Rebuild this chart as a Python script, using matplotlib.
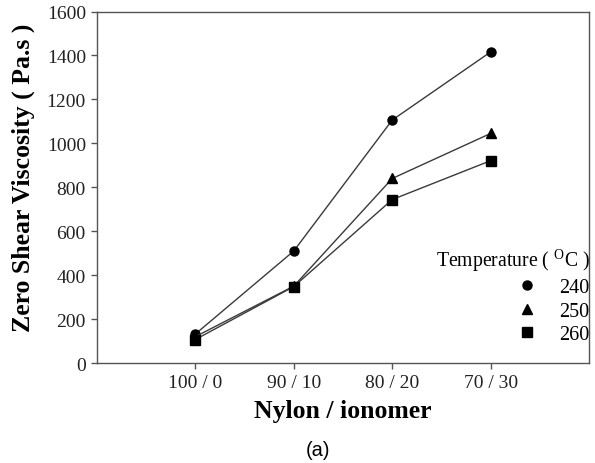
import matplotlib
matplotlib.use("Agg")
import matplotlib.pyplot as plt
from matplotlib.lines import Line2D

plt.rcParams['font.family'] = ['Liberation Serif', 'DejaVu Serif']
plt.rcParams['mathtext.fontset'] = 'custom'
plt.rcParams['mathtext.rm'] = 'Liberation Serif'

categories = ["100 / 0", "90 / 10", "80 / 20", "70 / 30"]
temps = ["240", "250", "260"]
v240 = [132, 510, 1106, 1416]
v250 = [120, 350, 840, 1045]
v260 = [107, 348, 744, 921]
series = [v240, v250, v260]
markers = ['o', '^', 's']
yticks = [0, 200, 400, 600, 800, 1000, 1200, 1400, 1600]

fig = plt.figure(figsize=(5.95, 4.64), dpi=100)
ax = fig.add_axes([0.163, 0.2155, 0.827, 0.7575])

x = list(range(1, len(categories) + 1))
for vals, m in zip(series, markers):
    ax.plot(x, vals, color='#3a3a3a', lw=1.0, marker=m, markersize=6.5,
            markerfacecolor='black', markeredgecolor='black', zorder=3)

ax.set_xlim(0, 5)
ax.set_ylim(0, 1600)
ax.set_xticks(x)
ax.set_xticklabels(categories)
ax.set_yticks(yticks)
ax.tick_params(axis='both', direction='out', length=4, width=1, color='#555555',
               labelsize=14, labelcolor='#222222', pad=4)
for s in ax.spines.values():
    s.set_color('#555555')
    s.set_linewidth(1.0)

ax.set_ylabel("Zero Shear Viscosity ( Pa.s )", fontsize=18.5, fontweight='bold')
ax.yaxis.set_label_coords(-0.125, 0.53)
ax.set_xlabel("Nylon / ionomer", fontsize=18.5, fontweight='bold', labelpad=6)

handles = [Line2D([], [], linestyle='none', marker=m, color='black', markersize=6.5) for m in markers]
leg = ax.legend(handles, temps, loc='lower right', bbox_to_anchor=(1.018, 0.03), frameon=False,
                title=r"Temperature ( $^{\mathrm{O}}$C )", title_fontsize=14.2, fontsize=14.5,
                alignment='right', handletextpad=0.6, labelspacing=0.22, borderaxespad=0.0)
leg._legend_box.sep = 4

fig.text(0.535, 0.018, "(a)", fontsize=14.5, family=['Liberation Sans'], ha='center')

fig.savefig("out.png", dpi=100)
